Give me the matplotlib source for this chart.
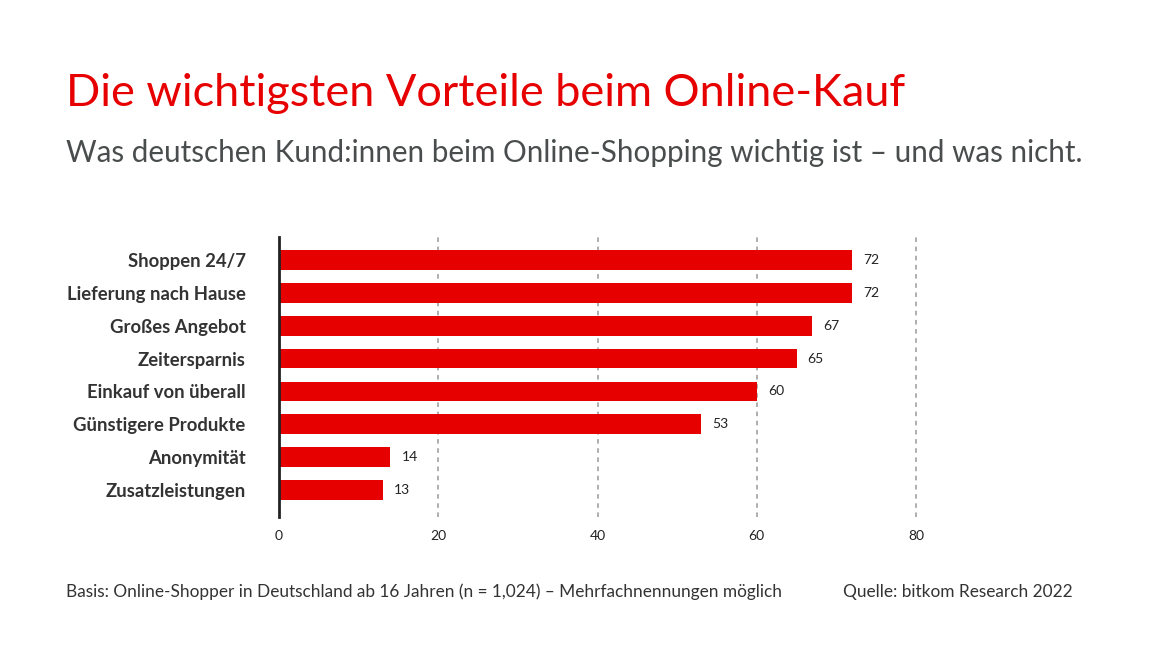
import matplotlib
matplotlib.use("Agg")
from matplotlib import pyplot as plt

categories = ["Shoppen 24/7", "Lieferung nach Hause", "Großes Angebot", "Zeitersparnis",
              "Einkauf von überall", "Günstigere Produkte", "Anonymität", "Zusatzleistungen"]
values = [72, 72, 67, 65, 60, 53, 14, 13]
xticks = [0, 20, 40, 60, 80]

RED = "#e60000"
DARK = "#333333"
GREY = "#4a4d4e"

plt.rcParams["font.family"] = ["Lato", "DejaVu Sans"]

fig = plt.figure(figsize=(11.76, 6.61), dpi=100)
ax = fig.add_axes([279 / 1176, 1 - 517 / 661, 637 / 1176, 280 / 661])

y = list(range(len(categories)))
bars = ax.barh(y, values, height=0.6, color=RED, zorder=3)
for rect, v in zip(bars, values):
    ax.text(rect.get_width() + 1.4, rect.get_y() + rect.get_height() / 2, str(v),
            ha="left", va="center", fontsize=10, color="#222222")

ax.set_xlim(0, 80)
ax.set_ylim(7.82, -0.7)
ax.set_yticks(y)
ax.set_yticklabels(categories, fontsize=13.3, fontweight="bold", color=DARK)
ax.set_xticks(xticks)
ax.set_xticklabels([str(t) for t in xticks], fontsize=10, color="#222222")
ax.tick_params(axis="y", length=0, pad=24)
ax.tick_params(axis="x", length=0, pad=9)

for t in xticks[1:]:
    ax.axvline(t, color="#999999", linestyle=(0, (3, 3)), linewidth=1.1, zorder=1, clip_on=False)

for s in ["top", "right", "bottom"]:
    ax.spines[s].set_visible(False)
ax.spines["left"].set_linewidth(2)
ax.spines["left"].set_color("#222222")
ax.spines["left"].set_zorder(4)

fig.text(66 / 1176, 1 - 94 / 661, "Die wichtigsten Vorteile beim Online-Kauf",
         fontsize=32.5, color=RED, ha="left", va="center")
fig.text(66 / 1176, 1 - 153 / 661, "Was deutschen Kund:innen beim Online-Shopping wichtig ist – und was nicht.",
         fontsize=21.3, color=GREY, ha="left", va="center")
fig.text(66 / 1176, 1 - 592 / 661,
         "Basis: Online-Shopper in Deutschland ab 16 Jahren (n = 1,024) – Mehrfachnennungen möglich",
         fontsize=12.4, color=DARK, ha="left", va="center")
fig.text(1073 / 1176, 1 - 592 / 661, "Quelle: bitkom Research 2022",
         fontsize=12.4, color=DARK, ha="right", va="center")

fig.savefig("out.png", dpi=100)
